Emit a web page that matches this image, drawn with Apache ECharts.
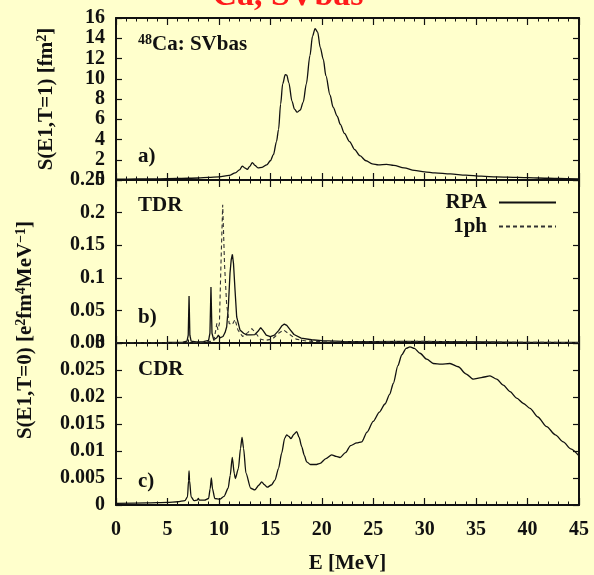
<!DOCTYPE html>
<html>
<head>
<meta charset="utf-8">
<script src="https://cdn.jsdelivr.net/npm/echarts@6/dist/echarts.min.js"></script>
<style>
html,body{margin:0;padding:0;background:#ffffcc;}
#c{width:594px;height:575px;}
</style>
</head>
<body>
<div id="c"></div>
<script>
// Panel a: S(E1,T=1) [fm^2]
var aE = [0,2,4,6,8,9,10,11,11.6,12.0,12.28,12.5,12.76,13.0,13.25,13.5,13.8,14.2,14.65,15.0,15.3,15.6,15.8,16.0,16.2,16.45,16.6,16.8,17.1,17.35,17.6,17.9,18.2,18.5,18.85,19.1,19.35,19.6,19.85,20.15,20.4,20.8,21.1,21.5,21.8,22.2,22.7,23.2,23.7,24.3,24.9,25.5,26.3,27.0,28.0,29.0,30.0,31.0,32.5,34.0,35.5,37.0,39.0,41.0,43.0,45.0];
var aS = [0.08,0.1,0.12,0.15,0.2,0.25,0.3,0.45,0.7,1.0,1.38,1.2,1.05,1.35,1.72,1.45,1.2,1.25,1.5,1.9,2.5,3.8,5.0,7.5,9.5,10.4,10.35,9.6,7.8,7.0,6.7,6.9,7.7,9.5,12.3,14.2,14.95,14.6,13.1,11.9,10.3,8.4,7.2,6.3,5.5,4.6,3.8,3.0,2.4,1.9,1.6,1.5,1.55,1.45,1.2,0.95,0.8,0.7,0.6,0.48,0.38,0.3,0.25,0.2,0.15,0.1];

// Panel b: TDR, RPA (solid)
var bE = [0,3,5,6.5,6.9,7.02,7.1,7.18,7.3,7.8,8.5,9.0,9.13,9.23,9.33,9.5,9.8,9.95,10.1,10.4,10.6,10.76,10.92,11.08,11.2,11.31,11.42,11.57,11.73,12.05,12.4,12.7,13.1,13.5,13.8,14.06,14.3,14.6,15.0,15.4,15.8,16.1,16.36,16.6,16.9,17.3,18.0,19.0,20.0,22.0,25.0,28.0,32.0,36.0,40.0,45.0];
var bRPA = [0.0003,0.0005,0.0008,0.0012,0.003,0.012,0.072,0.012,0.003,0.0018,0.002,0.004,0.015,0.086,0.015,0.005,0.008,0.012,0.008,0.01,0.016,0.025,0.056,0.107,0.128,0.136,0.122,0.081,0.04,0.02,0.015,0.0125,0.0125,0.013,0.018,0.0235,0.019,0.012,0.0097,0.012,0.019,0.026,0.029,0.027,0.021,0.013,0.0075,0.005,0.0035,0.0025,0.002,0.0025,0.002,0.0015,0.001,0.0008];

// Panel b: TDR, 1ph (dashed)
var b1E = [0,5,8,9.5,9.7,9.8,9.9,10.05,10.2,10.37,10.55,10.75,11.0,11.3,11.57,11.85,12.3,12.8,13.2,13.6,14.0,14.5,15.2,15.8,16.3,16.8,17.5,18.5,20.0,25.0,30.0,35.0,40.0,45.0];
var b1ph = [0,0,0.0005,0.003,0.02,0.03,0.02,0.03,0.12,0.212,0.12,0.06,0.03,0.028,0.036,0.02,0.01,0.016,0.022,0.015,0.006,0.004,0.006,0.015,0.02,0.014,0.006,0.003,0.002,0.002,0.0025,0.0015,0.001,0.0008];

// Panel c: CDR
var cE = [0,3,5,6,6.7,6.95,7.05,7.1,7.15,7.3,7.6,7.9,8.0,8.1,8.6,9.0,9.15,9.27,9.38,9.6,10.1,10.5,10.9,11.1,11.3,11.5,11.6,11.9,12.1,12.25,12.4,12.63,13.09,13.5,13.9,14.16,14.4,14.7,15.1,15.45,15.8,16.1,16.4,16.59,16.8,17.0,17.3,17.56,17.8,18.05,18.3,18.53,18.9,19.5,19.83,20.4,20.96,21.4,21.77,22.3,22.8,23.4,23.88,24.4,25.0,25.6,26.14,26.6,26.95,27.4,27.77,28.2,28.57,29.0,29.55,30.2,30.84,31.6,32.46,33.27,34.0,34.73,35.5,36.35,37.0,37.64,38.3,38.94,39.6,40.24,41.0,41.86,42.7,43.47,44.2,45.0];
var cS = [0.0003,0.0004,0.0005,0.0006,0.0008,0.0015,0.0045,0.0063,0.0045,0.0015,0.0008,0.0009,0.0012,0.0009,0.0009,0.0012,0.003,0.005,0.003,0.0012,0.0011,0.0016,0.0031,0.0055,0.0088,0.0058,0.0049,0.0068,0.0105,0.0125,0.0105,0.0059,0.0031,0.0028,0.0037,0.0043,0.0038,0.0033,0.0037,0.0046,0.0068,0.0096,0.0124,0.013,0.0127,0.0123,0.0131,0.0136,0.0125,0.0108,0.0092,0.008,0.0075,0.0075,0.0077,0.0086,0.0093,0.009,0.0088,0.0097,0.011,0.0115,0.0117,0.0135,0.0155,0.0172,0.0187,0.0205,0.0225,0.0258,0.0278,0.029,0.0293,0.029,0.0281,0.027,0.0262,0.0261,0.0262,0.0256,0.0243,0.0233,0.0236,0.0239,0.0233,0.0222,0.021,0.0198,0.0188,0.0179,0.0163,0.0145,0.013,0.0117,0.0104,0.0091];

// Tick labels
var xTicks = [0,5,10,15,20,25,30,35,40,45];

function pairs(xs, ys){ return xs.map(function(x,i){ return [x, ys[i]]; }); }

var FONT = 'Liberation Serif';
var INK = '#111';
var TF = 20;  // tick font
var LF = 21;  // label font

var grids = [
  {left:116, top:18, width:463, height:162},
  {left:116, top:180, width:463, height:163},
  {left:116, top:343, width:463, height:162}
];

var xAxes = [], yAxes = [];
[0,1,2].forEach(function(g){
  ['bottom','top'].forEach(function(pos){
    xAxes.push({
      type:'value', gridIndex:g, position:pos, min:0, max:45, interval:5,
      axisLine:{show:true, onZero:false, lineStyle:{color:INK, width:2}},
      axisTick:{show:true, inside:true, length:7, lineStyle:{color:INK, width:1.2}},
      minorTick:{show:true, splitNumber:5, length:3.5, lineStyle:{color:INK, width:1}},
      splitLine:{show:false},
      axisLabel:{show:(g===2 && pos==='bottom'), margin:15, fontFamily:FONT, fontSize:TF, fontWeight:'bold', color:INK,
        formatter:function(v){ return xTicks.indexOf(v)>=0 ? String(v) : ''; }},
      name:(g===2 && pos==='bottom') ? 'E [MeV]' : '',
      nameLocation:'middle', nameGap:48,
      nameTextStyle:{fontFamily:FONT, fontSize:LF, fontWeight:'bold', color:INK}
    });
  });
});
var yCfg = [
  {max:16, interval:2},
  {max:0.25, interval:0.05},
  {max:0.03, interval:0.005}
];
[0,1,2].forEach(function(g){
  ['left','right'].forEach(function(pos){
    yAxes.push({
      type:'value', gridIndex:g, position:pos, min:0, max:yCfg[g].max, interval:yCfg[g].interval,
      axisLine:{show:true, onZero:false, lineStyle:{color:INK, width:2}},
      axisTick:{show:true, inside:true, length:6, lineStyle:{color:INK, width:1.2}},
      splitLine:{show:false},
      axisLabel:{show:pos==='left', margin:11, fontFamily:FONT, fontSize:TF, fontWeight:'bold', color:INK}
    });
  });
});

var legendBase = {orient:'vertical', right:37, padding:0, align:'right', itemWidth:57, itemHeight:14,
  itemStyle:{opacity:0, borderWidth:0},
  textStyle:{fontFamily:FONT, fontSize:LF, fontWeight:'bold', color:INK, padding:[0,7,0,0]}};

var chart = echarts.init(document.getElementById('c'), null, {renderer:'canvas'});
chart.setOption({
  backgroundColor:'#ffffcc',
  animation:false,
  grid:grids,
  xAxis:xAxes,
  yAxis:yAxes,
  legend:[
    Object.assign({}, legendBase, {data:['RPA'], top:192}),
    Object.assign({}, legendBase, {data:['1ph'], top:216})
  ],
  series:[
    {name:'T1', type:'line', xAxisIndex:0, yAxisIndex:0, data:pairs(aE,aS), showSymbol:false, symbol:'none',
     smooth:0.3, smoothMonotone:'x', lineStyle:{color:'#111', width:1.3}},
    {name:'RPA', type:'line', xAxisIndex:2, yAxisIndex:2, data:pairs(bE,bRPA), showSymbol:false, symbol:'none',
     lineStyle:{color:'#111', width:1.3}, itemStyle:{color:'#111'}},
    {name:'1ph', type:'line', xAxisIndex:2, yAxisIndex:2, data:pairs(b1E,b1ph), showSymbol:false, symbol:'none',
     lineStyle:{color:'#333', width:1.1, type:[4,3]}, itemStyle:{color:'#333'}},
    {name:'CDR', type:'line', xAxisIndex:4, yAxisIndex:4, data:pairs(cE,cS), showSymbol:false, symbol:'none',
     smooth:0.25, smoothMonotone:'x', lineStyle:{color:'#111', width:1.3}}
  ],
  graphic:[
    {type:'text', left:192, top:-21, style:{text:'⁴⁸Ca, SVbas', fontFamily:FONT, fontSize:34, fontWeight:'bold', fill:'#ff1a1a'}},
    {type:'text', x:138, y:45, style:{
      text:'{s|48}{n|Ca: SVbas}', verticalAlign:'middle',
      rich:{n:{fontFamily:FONT, fontSize:LF, fontWeight:'bold', fill:INK, lineHeight:24},
            s:{fontFamily:FONT, fontSize:14, fontWeight:'bold', fill:INK, lineHeight:15, verticalAlign:'top'}}}},
    {type:'text', x:138, y:157, style:{text:'a)', fontFamily:FONT, fontSize:LF, fontWeight:'bold', fill:INK, verticalAlign:'middle'}},
    {type:'text', x:138, y:206, style:{text:'TDR', fontFamily:FONT, fontSize:LF, fontWeight:'bold', fill:INK, verticalAlign:'middle'}},
    {type:'text', x:138, y:318, style:{text:'b)', fontFamily:FONT, fontSize:LF, fontWeight:'bold', fill:INK, verticalAlign:'middle'}},
    {type:'text', x:138, y:370, style:{text:'CDR', fontFamily:FONT, fontSize:LF, fontWeight:'bold', fill:INK, verticalAlign:'middle'}},
    {type:'text', x:138, y:482, style:{text:'c)', fontFamily:FONT, fontSize:LF, fontWeight:'bold', fill:INK, verticalAlign:'middle'}},
    {type:'text', x:47, y:99, rotation:Math.PI/2, style:{
      text:'{n|S(E1,T=1) [fm}{s|2}{n|]}', align:'center', verticalAlign:'middle',
      rich:{n:{fontFamily:FONT, fontSize:LF, fontWeight:'bold', fill:INK, lineHeight:24},
            s:{fontFamily:FONT, fontSize:14, fontWeight:'bold', fill:INK, lineHeight:15, verticalAlign:'top'}}}},
    {type:'text', x:26, y:330, rotation:Math.PI/2, style:{
      text:'{n|S(E1,T=0) [e}{s|2}{n|fm}{s|4}{n|MeV}{s|−1}{n|]}', align:'center', verticalAlign:'middle',
      rich:{n:{fontFamily:FONT, fontSize:LF, fontWeight:'bold', fill:INK, lineHeight:24},
            s:{fontFamily:FONT, fontSize:14, fontWeight:'bold', fill:INK, lineHeight:15, verticalAlign:'top'}}}}
  ]
});
</script>
</body>
</html>
